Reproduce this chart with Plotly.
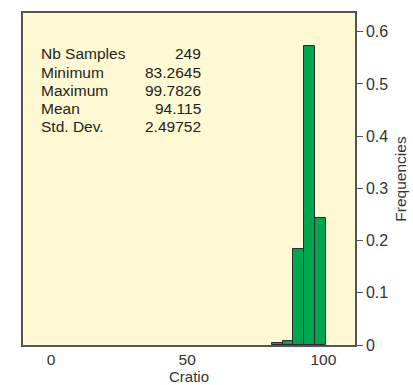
import plotly.graph_objects as go

bin_centers = [83, 87, 91, 95, 99]
bin_width = 4
frequencies = [0.004, 0.008, 0.183, 0.573, 0.243]

stat_names = ["Nb Samples", "Minimum", "Maximum", "Mean", "Std. Dev."]
stat_values = ["249", "83.2645", "99.7826", "94.115", "2.49752"]

x_ticks = [0, 50, 100]
y_ticks = [0, 0.1, 0.2, 0.3, 0.4, 0.5, 0.6]
y_tick_labels = ["0", "0.1", "0.2", "0.3", "0.4", "0.5", "0.6"]

FONT = "Liberation Sans"
fig = go.Figure()
fig.add_trace(go.Bar(
    x=bin_centers, y=frequencies, width=[bin_width] * len(bin_centers),
    marker=dict(color="#00A54F", line=dict(color="#2b2b2b", width=1)),
    showlegend=False, hoverinfo="skip",
))

W, H = 413, 385
ml, mr, mt, mb = 23, 58, 13, 40
pw, ph = W - ml - mr, H - mt - mb

for i, (n, v) in enumerate(zip(stat_names, stat_values)):
    ypx = 54 + i * 18.2
    yp = 1 - (ypx - mt) / ph
    fig.add_annotation(xref="paper", yref="paper", x=(40 - ml) / pw, y=yp,
                       text=n, showarrow=False, xanchor="left", yanchor="middle",
                       xshift=-1, font=dict(family=FONT, size=15.5, color="#222"))
    fig.add_annotation(xref="paper", yref="paper", x=(202 - ml) / pw, y=yp,
                       text=v, showarrow=False, xanchor="right", yanchor="middle",
                       xshift=1, font=dict(family=FONT, size=15.5, color="#222"))

fig.update_layout(
    width=W, height=H,
    margin=dict(l=ml, r=mr, t=mt, b=mb, pad=0),
    paper_bgcolor="white", plot_bgcolor="#FFFAD3",
    font=dict(family=FONT, size=16, color="#333"),
    bargap=0,
    xaxis=dict(range=[-10.3, 111.6], tickvals=x_ticks, ticktext=[str(t) for t in x_ticks],
               showgrid=False, zeroline=False, showline=True, linecolor="#555", linewidth=1.5,
               mirror=True, ticks="", ticklen=0, automargin=False,
               tickfont=dict(size=15.5),
               title=dict(text="Cratio", font=dict(size=15), standoff=8)),
    yaxis=dict(range=[0, 0.636], side="right", tickvals=y_ticks, ticktext=y_tick_labels,
               showgrid=False, zeroline=False, showline=True, linecolor="#555", linewidth=1.5,
               mirror=True, ticks="outside", ticklen=6, tickcolor="#555", automargin=False,
               tickfont=dict(size=16),
               title=dict(text="Frequencies", font=dict(size=15.5), standoff=8)),
)

fig.write_html("out.html", config={"displayModeBar": False},
               post_script="document.body.style.margin='0';")
